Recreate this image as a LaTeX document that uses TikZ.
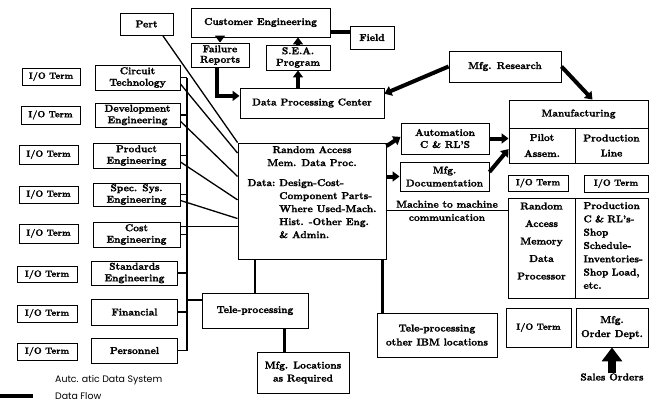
\documentclass[tikz,border=0pt]{standalone}
\usepackage{fontspec}
\setmainfont{lmroman10-regular.otf}[BoldFont=lmroman10-bold.otf, BoldFeatures={FakeBold=1.6}]
\newfontfamily\legendfont{Poppins}
\usetikzlibrary{arrows.meta,calc}
\begin{document}
\begin{tikzpicture}[x=1pt,y=-1pt,
  box/.style={draw, line width=0.9pt, inner sep=0pt, align=center,
    font=\fontsize{10}{11.5}\selectfont\bfseries},
  ioterm/.style={box, font=\fontsize{9}{11}\selectfont\bfseries},
  txt/.style={inner sep=0pt, font=\fontsize{10}{11.5}\selectfont\bfseries},
  flow/.style={line width=4pt, -{Triangle[width=10pt,length=7pt]}},
  link/.style={line width=2.6pt},
  wire/.style={line width=1.3pt},
  busline/.style={line width=1.8pt},
  legend/.style={anchor=west, inner sep=0pt, font=\legendfont\fontsize{9.4}{11}\selectfont},
]
\useasboundingbox (0,0) rectangle (649,407);

% ---- top group: customer engineering and data processing center
\node[box, minimum width=53pt, minimum height=22pt] (pert) at (146.5,24) {Pert};
\node[box, minimum width=139pt, minimum height=29pt] (custeng) at (260.5,22.5) {Customer Engineering};
\node[box, minimum width=44pt, minimum height=23pt] (field) at (372,37.5) {Field};
\node[box, minimum width=58pt, minimum height=24pt, font=\fontsize{10}{10.5}\selectfont\bfseries] (failure) at (220,55) {Failure\\Reports};
\node[box, minimum width=64pt, minimum height=25pt] (sea) at (298,57.5) {S.E.A.\\Program};
\node[box, minimum width=144pt, minimum height=30pt] (dpc) at (312,103) {Data Processing Center};
\node[box, minimum width=112pt, minimum height=31pt] (mfgres) at (505,66.5) {Mfg. Research};

% ---- manufacturing block
\node[box, minimum width=139pt, minimum height=28pt] (manuf) at (578.5,114) {Manufacturing};
\node[box, minimum width=66pt, minimum height=35pt, font=\fontsize{10}{16}\selectfont\bfseries] (pilot) at (542,145.5) {Pilot\\Assem.};
\node[box, minimum width=73pt, minimum height=35pt, font=\fontsize{10}{15}\selectfont\bfseries] (prodline) at (611.5,145.5) {Production\\Line};
\node[ioterm, minimum width=60pt, minimum height=16pt] (ior1) at (538,183) {I/O Term};
\node[ioterm, minimum width=64pt, minimum height=17pt] (ior2) at (616,183.5) {I/O Term};
\node[box, minimum width=67pt, minimum height=100pt] (ramdp) at (541.5,248) {};
\node[txt, align=center, font=\fontsize{10}{17.5}\selectfont\bfseries, yshift=7pt] (ramdptext) at (ramdp.center) {Random\\Access\\Memory\\Data\\Processor};
\node[box, minimum width=73pt, minimum height=100pt] (prodcrl) at (611.5,248) {};
\node[txt, align=left, text width=60pt, font=\fontsize{10}{13.3}\selectfont\bfseries, xshift=2pt, yshift=2.5pt] (prodtext) at (prodcrl.center) {Production\\C \& RL's-\\Shop\\Schedule-\\Inventories-\\Shop Load,\\etc.};
\node[ioterm, minimum width=65pt, minimum height=39pt] (ior3) at (538.5,327.5) {I/O Term};
\node[box, minimum width=72pt, minimum height=39pt, font=\fontsize{10}{14}\selectfont\bfseries] (mfgorder) at (612,327.5) {Mfg.\\Order Dept.};
\node[txt] (sales) at (612,377) {Sales Orders};

% ---- middle column
\node[box, minimum width=88pt, minimum height=31pt, font=\fontsize{10}{12}\selectfont\bfseries] (auto) at (445,138.5) {Automation\\C \& RL'S};
\node[box, minimum width=89pt, minimum height=29pt, font=\fontsize{10}{13}\selectfont\bfseries] (mfgdoc) at (444.5,176.5) {Mfg.\\Documentation};
\node[box, minimum width=148pt, minimum height=116pt] (central) at (312,201) {};
\node[txt, font=\fontsize{10}{13}\selectfont\bfseries, yshift=8pt] (centraltext) at (central.center)
  {\begin{tabular}{@{}l@{\hspace{4pt}}l@{}}
    \multicolumn{2}{c}{Random Access}\\
    \multicolumn{2}{c}{Mem. Data Proc.}\\[7pt]
    Data: & Design-Cost-\\
          & Component Parts-\\
          & Where Used-Mach.\\
          & Hist. -Other Eng.\\
          & \& Admin.
  \end{tabular}};
\node[box, minimum width=106pt, minimum height=35pt] (tpl) at (255,310.5) {Tele-processing};
\node[box, minimum width=92pt, minimum height=41pt, font=\fontsize{10}{13}\selectfont\bfseries] (mfgloc) at (303,372.5) {Mfg. Locations\\as Required};
\node[box, minimum width=120pt, minimum height=44pt, font=\fontsize{10}{14}\selectfont\bfseries] (tpr) at (437,335) {Tele-processing\\other IBM locations};

% ---- departments and their terminals
\node[box, minimum width=85pt, minimum height=25pt] (circuit) at (137.5,77.5) {Circuit\\Technology};
\node[box, minimum width=85pt, minimum height=24pt] (dev) at (137.5,115) {Development\\Engineering};
\node[box, minimum width=87pt, minimum height=25pt] (product) at (136.5,155.5) {Product\\Engineering};
\node[box, minimum width=87pt, minimum height=23pt] (spec) at (136.5,194.5) {Spec. Sys.\\Engineering};
\node[box, minimum width=87pt, minimum height=25pt] (cost) at (136.5,234.5) {Cost\\Engineering};
\node[box, minimum width=86pt, minimum height=24pt] (standards) at (134.5,273) {Standards\\Engineering};
\node[box, minimum width=86pt, minimum height=26pt] (financial) at (134.5,312) {Financial};
\node[box, minimum width=86pt, minimum height=25pt] (personnel) at (134.5,350.5) {Personnel};

\node[ioterm, minimum width=58pt, minimum height=17pt] (io1) at (51,76.5) {I/O Term};
\node[ioterm, minimum width=59pt, minimum height=18pt] (io2) at (50.5,115) {I/O Term};
\node[ioterm, minimum width=59pt, minimum height=19pt] (io3) at (48.5,154.5) {I/O Term};
\node[ioterm, minimum width=59pt, minimum height=17pt] (io4) at (48.5,194.5) {I/O Term};
\node[ioterm, minimum width=59pt, minimum height=19pt] (io5) at (48.5,233.5) {I/O Term};
\node[ioterm, minimum width=60pt, minimum height=16pt] (io6) at (47,274.5) {I/O Term};
\node[ioterm, minimum width=60pt, minimum height=17pt] (io7) at (47,313.5) {I/O Term};
\node[ioterm, minimum width=60pt, minimum height=17pt] (io8) at (47,351.5) {I/O Term};

% ---- legend
\node[legend] (legsys) at (55,380) {Autc. atic Data System};
\node[legend] (legflow) at (55,396) {Data Flow};
\draw[line width=4pt] ([xshift=-22pt]legflow.west) -- ++(-33,0);

% ---- data flows (heavy arrows)
\draw[flow] (custeng.south -| failure.north) -- (failure.north);
\draw[flow] (sea.north) -- (sea.north |- custeng.south);
\coordinate (fieldin) at ($(field.north west)!0.27!(field.south west)$);
\draw[line width=4pt] (custeng.east |- fieldin) -- (fieldin);
\coordinate (dpcin) at ($(dpc.north west)!0.27!(dpc.south west)$);
\draw[flow] ([xshift=-3pt]failure.south) |- (dpcin);
\draw[flow] (dpc.north -| sea.south) -- (sea.south);
\draw[flow] (mfgres.west) -- ($(dpc.north east)!0.2!(dpc.south east)$);
\draw[flow] (mfgres.east) -- ($(manuf.north west)!0.6!(manuf.north east)$);
\draw[flow] ($(central.north east)!0.03!(central.south east)$) -- ($(auto.north west)!0.45!(auto.south west)$);
\draw[flow] (central.east |- mfgdoc.west) -- (mfgdoc.west);
\draw[flow] (auto.east) -- (auto.east -| pilot.west);
\draw[flow] ($(mfgdoc.north east)!0.35!(mfgdoc.south east)$) -- ($(pilot.north west)!0.6!(pilot.south west)$);
\draw[line width=8pt, -{Triangle[width=20pt,length=14pt]}] (sales.north) -- (mfgorder.south);

% ---- machine to machine link
\coordinate (mmstart) at ($(central.north east)!0.58!(central.south east)$);
\draw[wire] (mmstart) -- node[txt, above=2pt] (mmtop) {Machine to machine}
  node[txt, below=3pt] (mmbot) {communication} (mmstart -| ramdp.west);

% ---- tele-processing links
\draw[link] (central.south -| tpl.north) -- (tpl.north);
\draw[link] ([xshift=-4pt]central.south east) -- ([xshift=-4pt]central.south east |- tpr.north);
\coordinate (locin) at ($(mfgloc.north west)!0.3!(mfgloc.north east)$);
\draw[link] (locin |- tpl.south) -- (locin);

% ---- department bus
\coordinate (busx) at (187,0);
\draw[busline] (circuit.east -| busx) -- (personnel.east -| busx);
\foreach \b in {circuit,dev,product,spec,cost,standards,financial,personnel}
  \draw[wire] (\b.east) -- (\b.east -| busx);
\coordinate (tplin) at ($(tpl.north west)!0.2!(tpl.south west)$);
\draw[busline] (tplin -| busx) -- (tplin);

% ---- direct lines into the random access processor
\draw[wire] ($(pert.south west)!0.8!(pert.south east)$) -- (central.north west);
\foreach \b/\f in {circuit/0.09, dev/0.29, product/0.49, spec/0.65}
  \draw[wire] ($(\b.north east)!0.75!(\b.south east)$) -- ($(central.north west)!\f!(central.south west)$);
\coordinate (costout) at ($(cost.north east)!0.2!(cost.south east)$);
\draw[wire] (costout) -- (costout -| central.west);
\end{tikzpicture}
\end{document}
